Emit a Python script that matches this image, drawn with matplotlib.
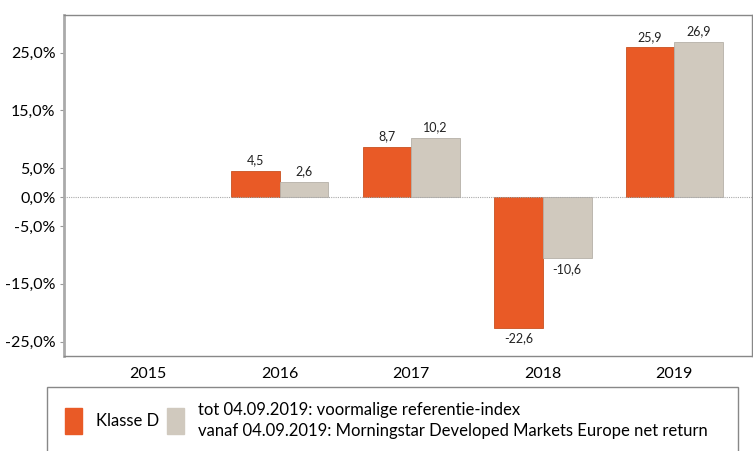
import matplotlib.pyplot as plt
from matplotlib.patches import Rectangle

years = ['2015', '2016', '2017', '2018', '2019']
klasse_d = [None, 4.5, 8.7, -22.6, 25.9]
referentie = [None, 2.6, 10.2, -10.6, 26.9]
yticks = [25, 15, 5, 0, -5, -15, -25]

orange = '#E95A26'
grey = '#D0C9BE'

plt.rcParams['font.family'] = ['Lato', 'DejaVu Sans']

fig = plt.figure(figsize=(7.53, 4.51), dpi=100)
ax = fig.add_axes([64 / 753, 1 - 356 / 451, (752 - 64) / 753, (356 - 15) / 451])

w = 0.37
for i, (a, b) in enumerate(zip(klasse_d, referentie)):
    if a is None:
        continue
    ax.bar(i - w / 2, a, w, color=orange, edgecolor='#c85020', linewidth=0.6)
    ax.bar(i + w / 2, b, w, color=grey, edgecolor='#b5b0a8', linewidth=0.6)
    for x, v in ((i - w / 2, a), (i + w / 2, b)):
        off = 0.8 if v >= 0 else -0.8
        ax.text(x, v + off, f'{v:.1f}'.replace('.', ','), ha='center',
                va='bottom' if v >= 0 else 'top', fontsize=9, color='#222222')

ax.axhline(0, color='#aaaaaa', linewidth=0.8, linestyle=(0, (1, 1)))
ax.set_xlim(-0.64, 4.59)
ax.set_ylim(-27.5, 31.5)
ax.set_yticks(yticks)
ax.set_yticklabels([f'{t:.1f}%'.replace('.', ',') for t in yticks], fontsize=11.5)
ax.set_xticks(range(len(years)))
ax.set_xticklabels(years, fontsize=11.5)
ax.tick_params(axis='x', length=0, pad=8)
ax.tick_params(axis='y', length=3, color='#999999', pad=3)
for s in ax.spines.values():
    s.set_color('#888888')
    s.set_linewidth(1)
ax.spines['left'].set_linewidth(2)
ax.spines['left'].set_color('#aaaaaa')

# legend box
fig.patches.append(Rectangle((47 / 753, -0.01), (738 - 47) / 753, (451 - 387) / 451 + 0.01,
                             transform=fig.transFigure, facecolor='white',
                             edgecolor='#888888', linewidth=1))
fig.patches.append(Rectangle((65 / 753, 1 - 434 / 451), 17 / 753, 26 / 451,
                             transform=fig.transFigure, color=orange))
fig.patches.append(Rectangle((167 / 753, 1 - 434 / 451), 17 / 753, 26 / 451,
                             transform=fig.transFigure, color=grey))
fig.text(96 / 753, 1 - 421 / 451, 'Klasse D', fontsize=12, va='center')
fig.text(198 / 753, 1 - 410 / 451, 'tot 04.09.2019: voormalige referentie-index', fontsize=12, va='center')
fig.text(198 / 753, 1 - 431 / 451, 'vanaf 04.09.2019: Morningstar Developed Markets Europe net return',
         fontsize=12, va='center')

fig.savefig('out.png', dpi=100)
